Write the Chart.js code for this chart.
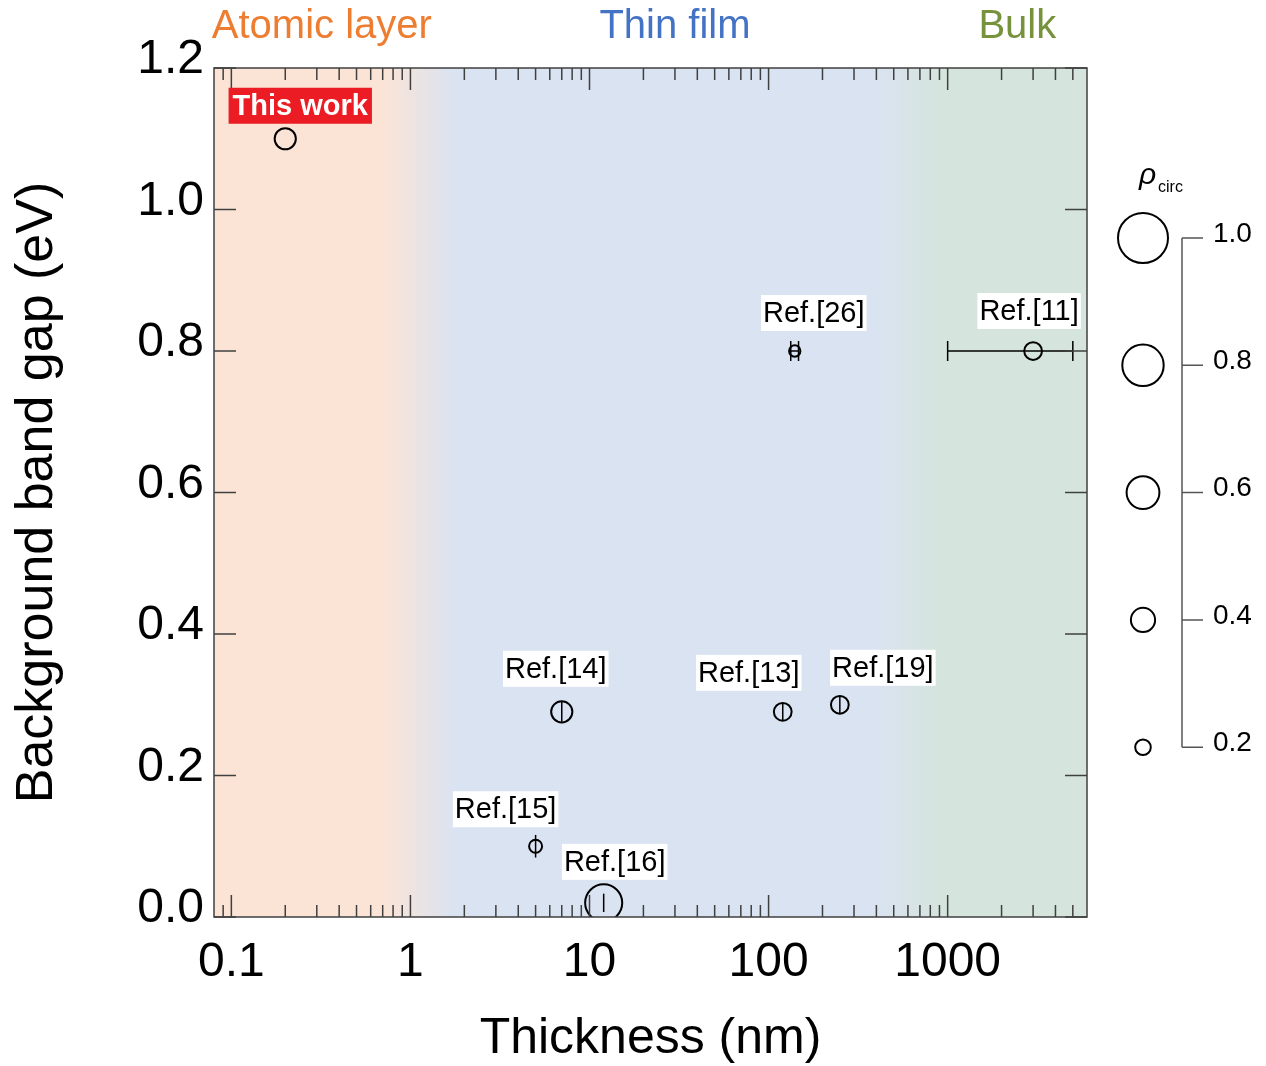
<!DOCTYPE html>
<html>
<head>
<meta charset="utf-8">
<script src="https://cdn.jsdelivr.net/npm/chart.js@4.4.0/dist/chart.umd.min.js"></script>
<style>
  html, body { margin: 0; padding: 0; background: #fff; }
</style>
</head>
<body>
<canvas id="gapChart" width="1266" height="1066"></canvas>
<script>
// Dados
const refLabels = ["This work", "Ref.[26]", "Ref.[11]", "Ref.[14]", "Ref.[15]", "Ref.[16]", "Ref.[13]", "Ref.[19]"];
const thickness = [0.2, 140, 3000, 7, 5, 12, 120, 250];      // nm
const bandGap   = [1.1, 0.8, 0.8, 0.29, 0.1, 0.02, 0.29, 0.3]; // eV
const rhoCirc   = [0.33, 0.1, 0.25, 0.33, 0.14, 0.7, 0.25, 0.25];
const thickLow  = [null, 133, 1000, null, null, null, null, null];
const thickHigh = [null, 147, 5000, null, null, null, null, null];
const gapErr    = [0, 0, 0, 0.014, 0.016, 0.013, 0.013, 0.013];

const xTickValues = [0.1, 1, 10, 100, 1000];
const yTickValues = [0, 0.2, 0.4, 0.6, 0.8, 1.0, 1.2];
const rhoLegend = [1.0, 0.8, 0.6, 0.4, 0.2];

const regionNames   = ["Atomic layer", "Thin film", "Bulk"];
const regionCenters = [0.32, 30, 2450];
// limites das transições de cor (nm)
const regionFades = [[0.7, 1.8], [380, 950]];

// Estilos
const FONT = "'Liberation Sans', Arial, sans-serif";
const COLORS = {
  atomic: "#FBE4D6",
  film: "#DAE3F2",
  bulk: "#D5E4DC",
  regionText: ["#ED7D31", "#4472C4", "#76923C"],
  frame: "#404040",
  red: "#EC1C24"
};

// posição dos rótulos em relação ao ponto (px)
const labelOffsets = [[15, -33], [19, -38], [-4, -40], [-6, -43], [-30, -37], [11, -41], [-34, -39], [43, -37]];

const radiusFor = rho => 3.5 + 21.5 * rho;

const bgPlugin = {
  id: "bg",
  beforeDraw(chart) {
    const { ctx, chartArea: a, scales: { x } } = chart;
    const w = a.right - a.left;
    const stop = v => Math.min(1, Math.max(0, (x.getPixelForValue(v) - a.left) / w));
    const g = ctx.createLinearGradient(a.left, 0, a.right, 0);
    g.addColorStop(0, COLORS.atomic);
    g.addColorStop(stop(regionFades[0][0]), COLORS.atomic);
    g.addColorStop(stop(regionFades[0][1]), COLORS.film);
    g.addColorStop(stop(regionFades[1][0]), COLORS.film);
    g.addColorStop(stop(regionFades[1][1]), COLORS.bulk);
    g.addColorStop(1, COLORS.bulk);
    ctx.save();
    ctx.fillStyle = g;
    ctx.fillRect(a.left, a.top, w, a.bottom - a.top);
    ctx.restore();
  }
};

const errorBarPlugin = {
  id: "errorBars",
  beforeDatasetsDraw(chart) {
    const { ctx, scales: { x, y } } = chart;
    ctx.save();
    ctx.strokeStyle = "#000";
    ctx.lineWidth = 1.5;
    thickness.forEach((t, i) => {
      const px = x.getPixelForValue(t);
      const py = y.getPixelForValue(bandGap[i]);
      if (gapErr[i]) {
        ctx.beginPath();
        ctx.moveTo(px, y.getPixelForValue(bandGap[i] - gapErr[i]));
        ctx.lineTo(px, y.getPixelForValue(bandGap[i] + gapErr[i]));
        ctx.stroke();
      }
      if (thickLow[i] != null) {
        const x1 = x.getPixelForValue(thickLow[i]);
        const x2 = x.getPixelForValue(thickHigh[i]);
        ctx.beginPath();
        ctx.moveTo(x1, py); ctx.lineTo(x2, py);
        ctx.moveTo(x1, py - 10); ctx.lineTo(x1, py + 10);
        ctx.moveTo(x2, py - 10); ctx.lineTo(x2, py + 10);
        ctx.stroke();
      }
    });
    ctx.restore();
  },
  afterDatasetsDraw(chart) {
    // moldura e marcas internas
    const { ctx, chartArea: a, scales: { x, y } } = chart;
    ctx.save();
    ctx.strokeStyle = COLORS.frame;
    ctx.lineWidth = 1.5;
    ctx.strokeRect(a.left, a.top, a.right - a.left, a.bottom - a.top);
    ctx.beginPath();
    for (let e = -2; e <= 3; e++) {
      for (let m = 1; m <= 9; m++) {
        const v = m * Math.pow(10, e);
        const px = x.getPixelForValue(v);
        if (px <= a.left + 1 || px >= a.right - 1) continue;
        const len = m === 1 ? 22 : 12;
        ctx.moveTo(px, a.top); ctx.lineTo(px, a.top + len);
        ctx.moveTo(px, a.bottom); ctx.lineTo(px, a.bottom - len);
      }
    }
    yTickValues.forEach(v => {
      const py = y.getPixelForValue(v);
      ctx.moveTo(a.left, py); ctx.lineTo(a.left + 22, py);
      ctx.moveTo(a.right, py); ctx.lineTo(a.right - 22, py);
    });
    ctx.stroke();
    ctx.restore();
  }
};

const annotationPlugin = {
  id: "annotations",
  afterDraw(chart) {
    const { ctx, scales: { x, y } } = chart;
    ctx.save();
    ctx.textAlign = "center";
    ctx.textBaseline = "middle";

    // Rótulos das referências
    refLabels.forEach((txt, i) => {
      const cx = x.getPixelForValue(thickness[i]) + labelOffsets[i][0];
      const cy = y.getPixelForValue(bandGap[i]) + labelOffsets[i][1];
      const own = i === 0;
      ctx.font = (own ? "bold " : "") + "29px " + FONT;
      const w = ctx.measureText(txt).width + (own ? 8 : 4);
      ctx.fillStyle = own ? COLORS.red : "#fff";
      ctx.fillRect(cx - w / 2, cy - 18, w, 36);
      ctx.fillStyle = own ? "#fff" : "#000";
      ctx.fillText(txt, cx, cy + 1);
    });

    // Regiões no topo
    ctx.font = "40px " + FONT;
    regionNames.forEach((name, i) => {
      ctx.fillStyle = COLORS.regionText[i];
      ctx.fillText(name, x.getPixelForValue(regionCenters[i]), 27);
    });

    // Legenda de rho_circ
    const lx = 1143, top = 238, step = 127.3;
    ctx.strokeStyle = "#000";
    ctx.lineWidth = 2;
    rhoLegend.forEach((r, i) => {
      ctx.beginPath();
      ctx.arc(lx, top + i * step, radiusFor(r), 0, Math.PI * 2);
      ctx.stroke();
    });
    ctx.strokeStyle = "#555";
    ctx.lineWidth = 1.5;
    ctx.beginPath();
    ctx.moveTo(1182, top); ctx.lineTo(1182, top + 4 * step);
    rhoLegend.forEach((r, i) => {
      ctx.moveTo(1182, top + i * step); ctx.lineTo(1203, top + i * step);
    });
    ctx.stroke();
    ctx.fillStyle = "#000";
    ctx.textAlign = "left";
    ctx.font = "28px " + FONT;
    rhoLegend.forEach((r, i) => ctx.fillText(r.toFixed(1), 1213, top + i * step - 4));
    ctx.font = "italic 30px " + FONT;
    ctx.fillText("\u03C1", 1139, 176);
    ctx.font = "16px " + FONT;
    ctx.fillText("circ", 1158, 188);
    ctx.restore();
  }
};

const chart = new Chart(document.getElementById("gapChart"), {
  type: "scatter",
  data: {
    datasets: [{
      data: thickness.map((t, i) => ({ x: t, y: bandGap[i] })),
      pointRadius: rhoCirc.map(radiusFor),
      pointHoverRadius: rhoCirc.map(radiusFor),
      pointBorderColor: "#000",
      pointBorderWidth: 2,
      pointBackgroundColor: "rgba(0,0,0,0)"
    }]
  },
  options: {
    responsive: false,
    animation: false,
    layout: { padding: { top: 68, right: 179, left: 0, bottom: 0 } },
    plugins: { legend: { display: false }, tooltip: { enabled: false } },
    scales: {
      x: {
        type: "logarithmic",
        min: 0.08,
        max: 6000,
        grid: { display: false },
        border: { display: false },
        afterBuildTicks: s => { s.ticks = xTickValues.map(v => ({ value: v })); },
        afterFit: s => { s.height = 149; },
        ticks: {
          autoSkip: false,
          maxRotation: 0,
          padding: 9,
          color: "#000",
          font: { family: FONT, size: 48 },
          callback: v => String(v)
        },
        title: {
          display: true,
          text: "Thickness (nm)",
          color: "#000",
          padding: { top: 0, bottom: -3 },
          font: { family: FONT, size: 50 }
        }
      },
      y: {
        min: 0,
        max: 1.2,
        grid: { display: false },
        border: { display: false },
        afterBuildTicks: s => { s.ticks = yTickValues.map(v => ({ value: v })); },
        afterFit: s => { s.width = 214; },
        ticks: {
          padding: 2,
          labelOffset: -8,
          color: "#000",
          font: { family: FONT, size: 48 },
          callback: v => v.toFixed(1)
        },
        title: {
          display: true,
          text: "Background band gap (eV)",
          color: "#000",
          padding: { top: 6, bottom: 0 },
          font: { family: FONT, size: 52 }
        }
      }
    }
  },
  plugins: [bgPlugin, errorBarPlugin, annotationPlugin]
});
</script>
</body>
</html>
